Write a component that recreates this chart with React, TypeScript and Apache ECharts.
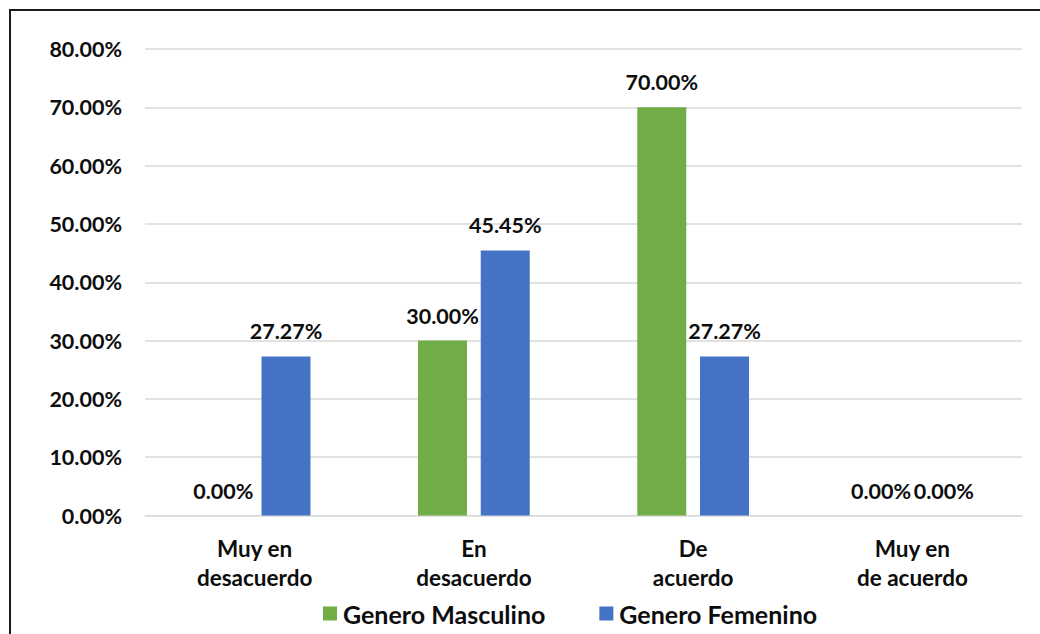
import React, { useEffect, useRef } from "react";
import * as echarts from "echarts";

const categories = ["Muy en\ndesacuerdo", "En\ndesacuerdo", "De\nacuerdo", "Muy en\nde acuerdo"];
const masculino = [0, 30, 70, 0];
const femenino = [27.27, 45.45, 27.27, 0];
const seriesNames = ["Genero Masculino", "Genero Femenino"];

const FONT = "Lato, 'Open Sans', sans-serif";

export default function App() {
  const ref = useRef<HTMLDivElement>(null);
  useEffect(() => {
    document.body.style.margin = "0";
    const chart = echarts.init(ref.current!, null, { renderer: "svg" });
    const label = {
      show: true,
      position: "top",
      distance: 14,
      fontSize: 21.5,
      fontWeight: "bold",
      fontFamily: FONT,
      color: "#0d0d0d",
      formatter: (p: any) => Number(p.value).toFixed(2) + "%",
    };
    chart.setOption({
      animation: false,
      backgroundColor: "#fff",
      textStyle: { fontFamily: FONT },
      graphic: [
        {
          type: "rect",
          shape: { x: 10, y: 10, width: 1040, height: 640 },
          style: { fill: "none", stroke: "#1a1a1a", lineWidth: 2 },
          silent: true,
        },
      ],
      grid: { left: 145, right: 18, top: 49, bottom: 118.5, containLabel: false },
      legend: {
        bottom: 3,
        left: 318,
        itemWidth: 14,
        itemHeight: 14,
        itemGap: 54,
        icon: "rect",
        textStyle: {
          fontSize: 25,
          fontWeight: "bold",
          color: "#0d0d0d",
          fontFamily: FONT,
          padding: [0, 0, 0, 1],
        },
        data: seriesNames,
      },
      xAxis: {
        type: "category",
        data: categories,
        axisLine: { lineStyle: { color: "#d9d9d9", width: 1 } },
        axisTick: { show: false },
        axisLabel: {
          fontSize: 22.5,
          fontWeight: "bold",
          color: "#0d0d0d",
          lineHeight: 29,
          margin: 18,
          fontFamily: FONT,
        },
      },
      yAxis: {
        type: "value",
        min: 0,
        max: 80,
        interval: 10,
        axisLine: { show: false },
        axisTick: { show: false },
        splitLine: { lineStyle: { color: "#d9d9d9", width: 1.5 } },
        axisLabel: {
          fontSize: 21.5,
          fontWeight: "bold",
          color: "#0d0d0d",
          margin: 23,
          fontFamily: FONT,
          formatter: (v: number) => v.toFixed(2) + "%",
        },
      },
      series: [
        {
          name: seriesNames[0],
          type: "bar",
          data: masculino,
          barWidth: 49,
          barGap: "28%",
          itemStyle: { color: "#70ad47" },
          label,
        },
        {
          name: seriesNames[1],
          type: "bar",
          data: femenino,
          barWidth: 49,
          itemStyle: { color: "#4472c4" },
          label,
        },
      ],
    });
    return () => chart.dispose();
  }, []);
  return <div ref={ref} style={{ width: 1040, height: 634 }} />;
}
